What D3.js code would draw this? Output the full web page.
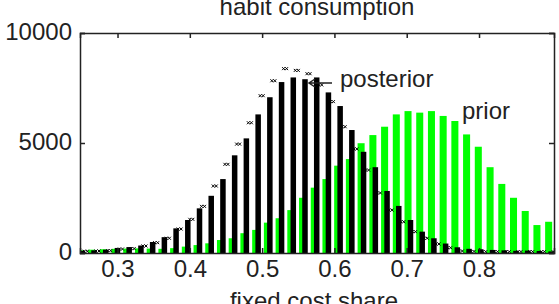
<!DOCTYPE html>
<html>
<head>
<meta charset="utf-8">
<script src="https://cdn.jsdelivr.net/npm/d3@7/dist/d3.min.js"></script>
<style>
  body { margin: 0; background: #fff; }
  svg { display: block; font-family: Arial, "Liberation Sans", sans-serif; }
  .axis path, .axis line { stroke: #222; stroke-width: 1.5; }
  .axis text { font-size: 24px; fill: #222; }
</style>
</head>
<body>
<div id="chart"></div>
<script>
// histogram bin centres (fixed cost share)
var binCenters = [0.2513, 0.2675, 0.2837, 0.2999, 0.3161, 0.3324, 0.3486, 0.3648, 0.3810, 0.3972,
    0.4134, 0.4296, 0.4458, 0.4620, 0.4782, 0.4945, 0.5107, 0.5269, 0.5431, 0.5593,
    0.5755, 0.5917, 0.6079, 0.6241, 0.6403, 0.6566, 0.6728, 0.6890, 0.7052, 0.7214,
    0.7376, 0.7538, 0.7700, 0.7862, 0.8024, 0.8187, 0.8349, 0.8511, 0.8673, 0.8835, 0.8997];
// posterior counts (black bars)
var posterior = [100, 120, 150, 230, 270, 340, 500, 720, 1120, 1500,
    2030, 2600, 3360, 4440, 5210, 6300, 7080, 7770, 7980, 7900,
    7980, 7300, 6680, 5590, 4600, 3900, 2820, 2140, 1500, 970,
    670, 430, 260, 190, 170, 140, 120, 100, 110, 90, 70];
// prior counts (green bars)
var prior = [120, 150, 170, 190, 200, 210, 200, 190, 220, 290,
    360, 440, 590, 670, 900, 1050, 1380, 1580, 1950, 2510,
    2970, 3360, 3970, 4270, 4990, 5360, 5740, 6300, 6450, 6380,
    6450, 6230, 6000, 5390, 4830, 3900, 3140, 2510, 1910, 1270, 1420];
// 'x' marker series
var marks = [80, 90, 110, 180, 200, 320, 470, 670, 1090, 1530,
    2120, 3045, 4030, 4950, 5920, 7150, 7830, 8380, 8300, 8150,
    7640, 6880, 5740, 4730, 3770, 2730, 1950, 1420, 970, 670,
    410, 240, 90, 70, 60, 60, 60, 60, 60, 60, 60];
var xTicks = [0.3, 0.4, 0.5, 0.6, 0.7, 0.8];
var yTicks = [0, 5000, 10000];

var W = 559, H = 304;
var padL = 80, padR = 554, padT = 33, padB = 253;

var svg = d3.select('#chart').append('svg')
    .attr('width', W)
    .attr('height', H);

var x = d3.scaleLinear().domain([0.2481, 0.9037]).range([padL, padR]);
var y = d3.scaleLinear().domain([0, 10000]).range([padB, padT]);

var step = x(binCenters[1]) - x(binCenters[0]);

svg.append('defs').append('clipPath').attr('id', 'plot')
    .append('rect')
    .attr('x', padL).attr('y', padT)
    .attr('width', padR - padL).attr('height', padB - padT);

var plot = svg.append('g').attr('clip-path', 'url(#plot)');

// prior bars sit a little left, behind the posterior
var gw = step * 0.6;
plot.selectAll('rect.prior')
    .data(prior)
    .enter().append('rect')
    .attr('class', 'prior')
    .attr('x', function(d, i) { return x(binCenters[i]) - step * 0.21 - gw / 2; })
    .attr('y', function(d) { return y(d); })
    .attr('width', gw)
    .attr('height', function(d) { return y(0) - y(d); })
    .style('fill', '#00ff00');

var bw = step * 0.47;
plot.selectAll('rect.post')
    .data(posterior)
    .enter().append('rect')
    .attr('class', 'post')
    .attr('x', function(d, i) { return x(binCenters[i]) - bw / 2; })
    .attr('y', function(d) { return y(d); })
    .attr('width', bw)
    .attr('height', function(d) { return y(0) - y(d); })
    .style('fill', '#000');

// small double-x markers
var mg = plot.selectAll('g.mark')
    .data(marks)
    .enter().append('g')
    .attr('class', 'mark')
    .attr('transform', function(d, i) {
        return 'translate(' + (x(binCenters[i]) + step * 0.3) + ',' + y(d) + ')';
    });
var ms = 1.5;
[-1.5, 1.5].forEach(function(dx) {
    mg.append('path')
        .attr('d', 'M' + (dx - ms) + ',' + (-ms) + 'L' + (dx + ms) + ',' + ms +
            'M' + (dx - ms) + ',' + ms + 'L' + (dx + ms) + ',' + (-ms))
        .style('stroke', '#000')
        .style('stroke-width', 1)
        .style('fill', 'none');
});

// axes (ticks pointing inward, box around)
svg.append('g').attr('class', 'axis')
    .attr('transform', 'translate(0,' + padB + ')')
    .call(d3.axisBottom(x).tickValues(xTicks).tickSize(-5).tickPadding(7)
        .tickFormat(d3.format('.1f')));
svg.append('g').attr('class', 'axis')
    .attr('transform', 'translate(0,' + padT + ')')
    .call(d3.axisTop(x).tickValues(xTicks).tickSize(-5).tickFormat(''));
svg.append('g').attr('class', 'axis')
    .attr('transform', 'translate(' + padL + ',0)')
    .call(d3.axisLeft(y).tickValues(yTicks).tickSize(-5).tickPadding(8)
        .tickFormat(d3.format('d')));
svg.append('g').attr('class', 'axis')
    .attr('transform', 'translate(' + padR + ',0)')
    .call(d3.axisRight(y).tickValues(yTicks).tickSize(-5).tickFormat(''));
svg.selectAll('.axis .domain').style('fill', 'none');
svg.selectAll('.axis text').attr('dy', function() {
    return d3.select(this.parentNode.parentNode).attr('transform').indexOf('translate(0') === 0 ? '0.71em' : '0.26em';
});

// title and labels
svg.append('text')
    .attr('x', (padL + padR) / 2)
    .attr('y', 15)
    .attr('text-anchor', 'middle')
    .style('font-size', '24px')
    .style('fill', '#222')
    .text('habit consumption');
svg.append('text')
    .attr('x', (padL + padR) / 2 - 3)
    .attr('y', 309)
    .attr('text-anchor', 'middle')
    .style('font-size', '24px')
    .style('fill', '#222')
    .text('fixed cost share');

// annotations
svg.append('text')
    .attr('x', 340).attr('y', 87)
    .style('font-size', '24px').style('fill', '#222')
    .text('posterior');
svg.append('text')
    .attr('x', 462).attr('y', 119)
    .style('font-size', '24px').style('fill', '#222')
    .text('prior');
svg.append('path')
    .attr('d', 'M332,83L309,83M315,79L309,83L315,87')
    .style('stroke', '#222')
    .style('stroke-width', 1.5)
    .style('fill', 'none');
</script>
</body>
</html>
